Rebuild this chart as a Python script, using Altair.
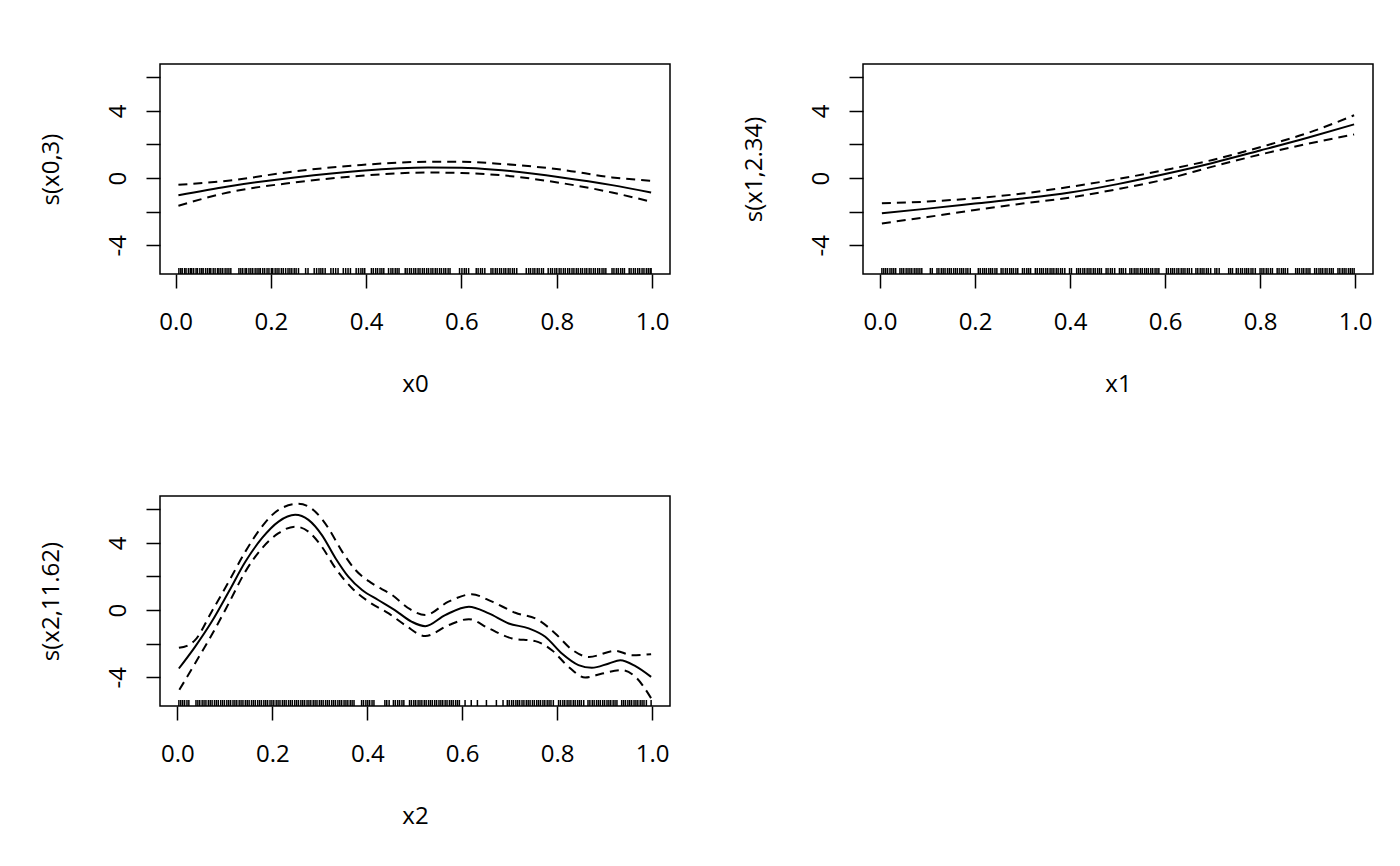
import altair as alt
import pandas as pd

# ---------------- data ----------------
# panel 1 : s(x0,3)
p1_x = [0.006, 0.11, 0.25, 0.39, 0.53, 0.60, 0.67, 0.81, 0.916, 0.998]
p1_fit = [-1.02, -0.50, 0.04, 0.44, 0.63, 0.61, 0.50, 0.04, -0.42, -0.86]
p1_up = [-0.40, -0.16, 0.40, 0.78, 0.97, 0.97, 0.87, 0.50, 0.04, -0.16]
p1_lo = [-1.65, -0.86, -0.26, 0.14, 0.33, 0.30, 0.20, -0.30, -0.86, -1.41]
p1_rug = [0.007, 0.011, 0.014, 0.019, 0.022, 0.027, 0.031, 0.034, 0.038, 0.043, 0.046, 0.051, 0.055,
          0.058, 0.063, 0.067, 0.071, 0.074, 0.079, 0.083, 0.088, 0.091, 0.095, 0.099, 0.104, 0.108,
          0.112, 0.116, 0.133, 0.137, 0.141, 0.146, 0.149, 0.154, 0.158, 0.162, 0.167, 0.171, 0.175,
          0.178, 0.183, 0.187, 0.192, 0.196, 0.201, 0.204, 0.209, 0.213, 0.217, 0.222, 0.226, 0.231,
          0.236, 0.240, 0.244, 0.249, 0.253, 0.258, 0.273, 0.278, 0.291, 0.296, 0.301, 0.305, 0.309,
          0.314, 0.326, 0.331, 0.336, 0.341, 0.352, 0.357, 0.362, 0.367, 0.379, 0.384, 0.389, 0.393,
          0.397, 0.411, 0.415, 0.420, 0.424, 0.429, 0.433, 0.437, 0.447, 0.452, 0.456, 0.461, 0.465,
          0.469, 0.482, 0.486, 0.491, 0.495, 0.500, 0.504, 0.509, 0.513, 0.518, 0.522, 0.527, 0.531,
          0.536, 0.540, 0.545, 0.549, 0.554, 0.558, 0.563, 0.567, 0.572, 0.576, 0.596, 0.601, 0.606,
          0.610, 0.615, 0.631, 0.635, 0.640, 0.644, 0.649, 0.662, 0.666, 0.671, 0.675, 0.680, 0.684,
          0.689, 0.693, 0.698, 0.702, 0.707, 0.711, 0.716, 0.736, 0.741, 0.745, 0.750, 0.754, 0.759,
          0.763, 0.768, 0.772, 0.782, 0.787, 0.791, 0.796, 0.800, 0.805, 0.809, 0.814, 0.818, 0.823,
          0.827, 0.832, 0.836, 0.841, 0.845, 0.850, 0.854, 0.859, 0.863, 0.868, 0.872, 0.877, 0.881,
          0.886, 0.890, 0.895, 0.899, 0.903, 0.916, 0.920, 0.925, 0.929, 0.934, 0.938, 0.942, 0.952,
          0.956, 0.961, 0.965, 0.970, 0.974, 0.979, 0.983, 0.988, 0.992, 0.996, 0.998]

# panel 2 : s(x1,2.34)
p2_x = [0.004, 0.1, 0.2, 0.3, 0.4, 0.5, 0.6, 0.7, 0.8, 0.9, 0.998]
p2_fit = [-2.10, -1.82, -1.52, -1.22, -0.86, -0.36, 0.24, 0.90, 1.64, 2.40, 3.20]
p2_up = [-1.50, -1.40, -1.20, -0.92, -0.52, -0.06, 0.48, 1.08, 1.84, 2.68, 3.74]
p2_lo = [-2.70, -2.32, -1.90, -1.52, -1.16, -0.66, -0.08, 0.68, 1.40, 2.04, 2.60]
p2_rug = [0.004, 0.008, 0.012, 0.016, 0.021, 0.025, 0.029, 0.033, 0.042, 0.046, 0.050, 0.055, 0.059,
          0.063, 0.067, 0.072, 0.076, 0.080, 0.084, 0.088, 0.106, 0.110, 0.120, 0.124, 0.129, 0.133,
          0.137, 0.142, 0.146, 0.150, 0.155, 0.159, 0.163, 0.168, 0.172, 0.176, 0.181, 0.185, 0.190,
          0.207, 0.211, 0.216, 0.220, 0.224, 0.229, 0.233, 0.237, 0.242, 0.246, 0.255, 0.259, 0.264,
          0.268, 0.273, 0.277, 0.281, 0.286, 0.290, 0.300, 0.304, 0.309, 0.313, 0.317, 0.327, 0.331,
          0.336, 0.340, 0.344, 0.349, 0.353, 0.358, 0.362, 0.366, 0.371, 0.375, 0.380, 0.384, 0.389,
          0.399, 0.403, 0.414, 0.418, 0.422, 0.427, 0.431, 0.436, 0.440, 0.444, 0.449, 0.453, 0.458,
          0.462, 0.466, 0.476, 0.480, 0.485, 0.489, 0.494, 0.504, 0.508, 0.512, 0.517, 0.526, 0.530,
          0.535, 0.539, 0.543, 0.548, 0.552, 0.557, 0.561, 0.565, 0.570, 0.574, 0.579, 0.583, 0.587,
          0.603, 0.607, 0.612, 0.616, 0.620, 0.625, 0.629, 0.634, 0.638, 0.642, 0.647, 0.651, 0.656,
          0.665, 0.669, 0.674, 0.678, 0.682, 0.687, 0.691, 0.696, 0.705, 0.709, 0.714, 0.734, 0.738,
          0.742, 0.750, 0.754, 0.759, 0.763, 0.768, 0.772, 0.776, 0.781, 0.785, 0.790, 0.800, 0.804,
          0.808, 0.813, 0.817, 0.822, 0.826, 0.836, 0.840, 0.845, 0.849, 0.853, 0.858, 0.875, 0.879,
          0.883, 0.888, 0.892, 0.897, 0.901, 0.905, 0.915, 0.919, 0.924, 0.928, 0.932, 0.937, 0.941,
          0.946, 0.950, 0.954, 0.964, 0.968, 0.973, 0.977, 0.981, 0.986, 0.990, 0.994, 0.998]

# panel 3 : s(x2,11.62)
p3_fit_x = [0.003, 0.037, 0.072, 0.108, 0.143, 0.178, 0.213, 0.248, 0.276, 0.304, 0.333, 0.360,
            0.389, 0.423, 0.458, 0.494, 0.522, 0.564, 0.614, 0.656, 0.698, 0.740, 0.775, 0.810,
            0.845, 0.873, 0.909, 0.933, 0.965, 0.998]
p3_fit = [-3.48, -2.19, -0.70, 1.09, 2.88, 4.28, 5.27, 5.67, 5.37, 4.48, 3.09, 1.99,
          1.19, 0.60, 0.00, -0.70, -0.96, -0.30, 0.20, -0.20, -0.80, -1.09, -1.59, -2.59,
          -3.28, -3.44, -3.18, -2.99, -3.34, -3.98]
p3_up_x = [0.003, 0.020, 0.037, 0.072, 0.108, 0.143, 0.178, 0.213, 0.255, 0.290, 0.318, 0.347,
           0.375, 0.410, 0.452, 0.490, 0.522, 0.571, 0.620, 0.663, 0.712, 0.761, 0.796, 0.831,
           0.867, 0.923, 0.958, 0.998]
p3_up = [-2.25, -2.13, -1.79, -0.10, 1.69, 3.48, 4.97, 5.97, 6.33, 5.87, 4.88, 3.48,
         2.39, 1.59, 0.90, 0.05, -0.30, 0.50, 0.94, 0.50, -0.16, -0.60, -1.39, -2.35,
         -2.79, -2.43, -2.69, -2.63]
p3_lo_x = [0.004, 0.037, 0.072, 0.108, 0.143, 0.178, 0.213, 0.248, 0.276, 0.304, 0.333, 0.368,
           0.403, 0.445, 0.480, 0.522, 0.571, 0.614, 0.656, 0.705, 0.754, 0.789, 0.824, 0.859,
           0.895, 0.937, 0.965, 0.998]
p3_lo = [-4.75, -3.18, -1.49, 0.40, 2.29, 3.68, 4.58, 4.97, 4.67, 3.78, 2.49, 1.30,
         0.50, -0.20, -0.90, -1.55, -0.90, -0.54, -1.09, -1.69, -1.85, -2.39, -3.38, -4.02,
         -3.78, -3.58, -3.98, -5.25]
p3_rug = [0.003, 0.007, 0.011, 0.015, 0.020, 0.024, 0.039, 0.043, 0.047, 0.052, 0.056, 0.060, 0.065,
          0.069, 0.073, 0.078, 0.082, 0.086, 0.091, 0.095, 0.099, 0.104, 0.108, 0.112, 0.117, 0.121,
          0.125, 0.130, 0.134, 0.138, 0.143, 0.147, 0.151, 0.156, 0.160, 0.164, 0.169, 0.173, 0.177,
          0.182, 0.186, 0.190, 0.195, 0.199, 0.203, 0.208, 0.212, 0.216, 0.221, 0.225, 0.229, 0.234,
          0.238, 0.242, 0.247, 0.251, 0.255, 0.260, 0.264, 0.268, 0.273, 0.277, 0.281, 0.286, 0.290,
          0.294, 0.299, 0.303, 0.307, 0.312, 0.316, 0.320, 0.325, 0.329, 0.333, 0.338, 0.342, 0.346,
          0.351, 0.355, 0.359, 0.364, 0.368, 0.372, 0.388, 0.392, 0.397, 0.401, 0.405, 0.410, 0.414,
          0.437, 0.441, 0.446, 0.455, 0.459, 0.464, 0.468, 0.473, 0.477, 0.489, 0.493, 0.498, 0.502,
          0.507, 0.511, 0.515, 0.520, 0.524, 0.529, 0.533, 0.537, 0.542, 0.546, 0.551, 0.555, 0.559,
          0.564, 0.568, 0.573, 0.577, 0.581, 0.586, 0.590, 0.594, 0.606, 0.619, 0.632, 0.651, 0.672,
          0.686, 0.695, 0.699, 0.704, 0.708, 0.713, 0.717, 0.721, 0.726, 0.730, 0.735, 0.739, 0.743,
          0.748, 0.752, 0.757, 0.761, 0.765, 0.770, 0.774, 0.779, 0.783, 0.787, 0.792, 0.803, 0.807,
          0.812, 0.816, 0.821, 0.825, 0.829, 0.834, 0.838, 0.843, 0.847, 0.851, 0.856, 0.865, 0.869,
          0.874, 0.878, 0.883, 0.887, 0.891, 0.896, 0.900, 0.905, 0.909, 0.913, 0.918, 0.922, 0.926,
          0.936, 0.940, 0.944, 0.949, 0.953, 0.957, 0.962, 0.966, 0.970, 0.975, 0.979, 0.983, 0.988,
          0.998]

x_ticks = [0.0, 0.2, 0.4, 0.6, 0.8, 1.0]
y_ticks = [-4, -2, 0, 2, 4, 6]

# ---------------- layout / style ----------------
FONT = "Open Sans"
FS = 24
W, H = 510, 210
LW = 2.0

lo_all = min(p1_lo + p2_lo + p3_lo)
hi_all = max(p1_up + p2_up + p3_up)
pad = 0.04 * (hi_all - lo_all)
YDOM = [lo_all - pad, hi_all + pad]


def xdom(rug):
    a, b = min(rug), max(rug)
    p = 0.04 * (b - a)
    return [a - p, b + p]


def panel(xf, fit, xu, up, xl, lo, rug, xlab, ylab):
    xs = alt.Scale(domain=xdom(rug), nice=False, zero=False)
    ys = alt.Scale(domain=YDOM, nice=False, zero=False)
    xaxis = alt.Axis(values=x_ticks, format=".1f", title=xlab, grid=False, domain=False,
                     tickSize=14, tickWidth=1.5, tickColor="black",
                     labelFont=FONT, labelFontSize=FS, labelColor="black",
                     labelBaseline="alphabetic", labelPadding=41, labelFlush=False,
                     labelOverlap=False,
                     titleFont=FONT, titleFontSize=FS, titleFontWeight="normal",
                     titleColor="black", titleBaseline="alphabetic", titleY=117,
                     titleX=W / 2, titleAlign="center")
    yaxis = alt.Axis(values=y_ticks, title=ylab, grid=False, domain=False,
                     labelExpr="datum.value % 4 == 0 ? '' + datum.value : ''",
                     tickSize=14, tickWidth=1.5, tickColor="black",
                     labelFont=FONT, labelFontSize=FS, labelColor="black",
                     labelAngle=270, labelAlign="center", labelBaseline="alphabetic",
                     labelPadding=21, labelFlush=False, labelOverlap=False,
                     titleFont=FONT, titleFontSize=FS, titleFontWeight="normal",
                     titleColor="black", titleAngle=270, titleAlign="center",
                     titleBaseline="alphabetic", titleX=-102, titleY=H / 2)
    X = alt.X("x:Q", scale=xs, axis=xaxis)
    Y = alt.Y("y:Q", scale=ys, axis=yaxis)

    fit_l = alt.Chart(pd.DataFrame({"x": xf, "y": fit})).mark_line(
        color="black", strokeWidth=LW, interpolate="monotone").encode(x=X, y=Y)
    up_l = alt.Chart(pd.DataFrame({"x": xu, "y": up})).mark_line(
        color="black", strokeWidth=LW, strokeDash=[9, 6], interpolate="monotone").encode(x=X, y=Y)
    lo_l = alt.Chart(pd.DataFrame({"x": xl, "y": lo})).mark_line(
        color="black", strokeWidth=LW, strokeDash=[9, 6], interpolate="monotone").encode(x=X, y=Y)
    rug_l = alt.Chart(pd.DataFrame({"x": rug})).mark_rule(
        color="black", strokeWidth=1.5).encode(x=X, y=alt.value(H), y2=alt.value(H - 6))
    return alt.layer(fit_l, up_l, lo_l, rug_l).properties(width=W, height=H)


c1 = panel(p1_x, p1_fit, p1_x, p1_up, p1_x, p1_lo, p1_rug, "x0", "s(x0,3)")
c2 = panel(p2_x, p2_fit, p2_x, p2_up, p2_x, p2_lo, p2_rug, "x1", "s(x1,2.34)")
c3 = panel(p3_fit_x, p3_fit, p3_up_x, p3_up, p3_lo_x, p3_lo, p3_rug, "x2", "s(x2,11.62)")

row1 = alt.hconcat(c1, c2, spacing=70)
chart = alt.vconcat(row1, c3, spacing=98).properties(
    padding={"left": 30, "top": 55, "right": 5, "bottom": 5},
    background="white",
).configure_view(stroke="black", strokeWidth=1.5).configure_concat(spacing=0)

chart.save("out.html", embed_options={"renderer": "svg", "actions": False})
